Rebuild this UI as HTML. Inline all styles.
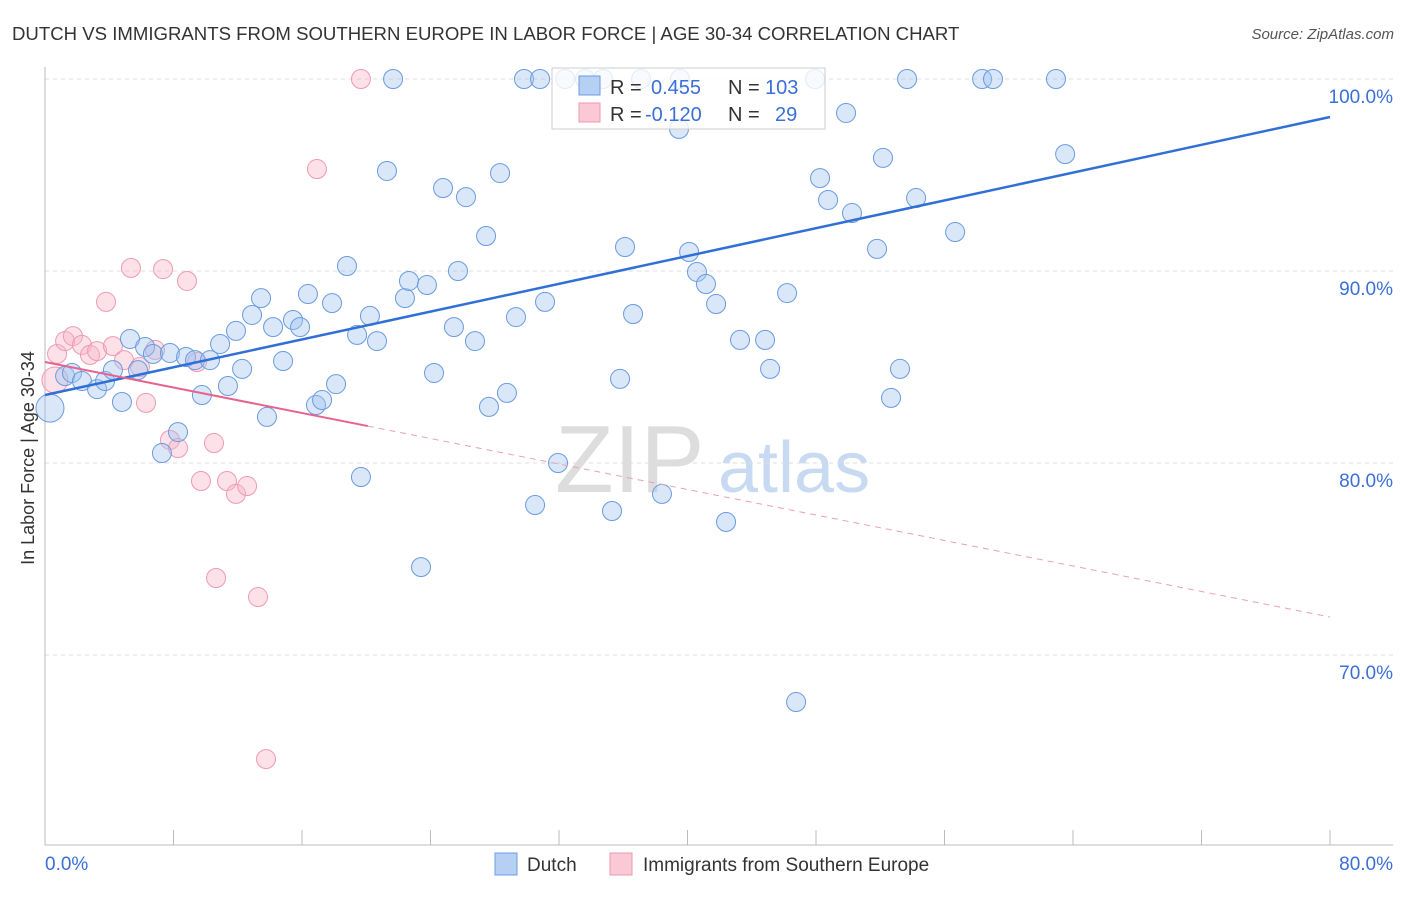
<!DOCTYPE html>
<html><head><meta charset="utf-8"><style>
body{margin:0;background:#fff;font-family:"Liberation Sans",sans-serif;}
svg text{font-family:"Liberation Sans",sans-serif;}
</style></head><body>
<svg width="1406" height="892">
<text x="12" y="40" font-size="18.6" fill="#333">DUTCH VS IMMIGRANTS FROM SOUTHERN EUROPE IN LABOR FORCE | AGE 30-34 CORRELATION CHART</text>
<text x="1394" y="39" font-size="15" fill="#555" font-style="italic" text-anchor="end">Source: ZipAtlas.com</text>
<g><text x="555" y="492" font-size="96" fill="#ddd" font-family="Liberation Serif">ZIP</text><text x="718" y="492" font-size="72" fill="#c8daf2">atlas</text></g>
<g id="grid"></g>
<g id="axes"></g>
<g id="marks"></g>
<g>
<rect x="552" y="68" width="273" height="61" fill="#fff" fill-opacity="0.8" stroke="#ccc"/>
<rect x="579" y="76" width="21" height="19" fill="#b5d0f3" stroke="#6a9be0"/>
<rect x="579" y="103" width="21" height="19" fill="#fbc8d6" stroke="#ee9ab3"/>
<text x="610" y="94" font-size="20" fill="#333">R = </text><text x="651" y="94" font-size="20" fill="#3a6fd8">0.455</text>
<text x="728" y="94" font-size="20" fill="#333">N = </text><text x="765" y="94" font-size="20" fill="#3a6fd8">103</text>
<text x="610" y="121" font-size="20" fill="#333">R = </text><text x="645" y="121" font-size="20" fill="#3a6fd8">-0.120</text>
<text x="728" y="121" font-size="20" fill="#333">N = </text><text x="775" y="121" font-size="20" fill="#3a6fd8">29</text>
</g>
<text x="0" y="0" transform="translate(34,458) rotate(-90)" font-size="18" fill="#333" text-anchor="middle">In Labor Force | Age 30-34</text>
<g>
<rect x="495" y="853" width="22" height="22" fill="#b5d0f3" stroke="#6a9be0"/>
<text x="527" y="871" font-size="19" fill="#333">Dutch</text>
<rect x="610" y="853" width="22" height="22" fill="#fbc8d6" stroke="#ee9ab3"/>
<text x="643" y="871" font-size="19" fill="#333">Immigrants from Southern Europe</text>
</g>
</svg>
<script>
const yTicks=[100,90,80,70];
const xTickLabels=["0.0%","80.0%"];
const dutchX=[0.31,1.25,1.68,2.30,3.24,3.74,4.23,4.79,5.29,5.79,6.23,6.72,7.78,7.28,8.28,8.78,9.34,9.77,10.27,10.90,11.39,11.89,12.27,12.89,13.45,13.82,14.20,14.82,15.44,15.88,16.37,16.87,17.25,17.87,18.12,18.80,19.43,19.67,20.23,20.67,21.29,21.67,22.41,22.66,23.41,23.78,24.22,24.78,25.46,25.71,26.21,26.77,27.46,27.64,28.33,28.76,29.32,29.82,30.51,30.82,31.13,31.94,32.38,33.62,35.30,35.80,36.11,36.61,37.11,38.41,39.47,40.10,40.59,41.15,41.78,42.40,43.27,44.83,45.14,46.20,46.76,47.94,48.25,48.75,49.87,50.24,51.80,52.17,52.67,53.23,53.67,54.23,56.66,58.34,59.02,62.94,63.51,34.74,39.53];
const dutchY=[82.86,84.53,84.69,84.27,83.85,84.27,84.84,83.18,86.46,84.84,86.04,85.68,85.73,80.52,81.61,85.52,85.36,83.54,85.36,86.20,84.01,86.88,84.90,87.71,88.59,82.40,87.08,85.31,87.45,87.08,88.80,83.02,83.28,88.33,84.11,90.26,86.67,79.27,87.66,86.35,95.21,100,88.59,89.48,74.58,89.27,84.69,94.32,87.08,90.0,93.85,86.35,91.82,82.92,95.10,83.65,87.60,100,77.81,100,88.39,80.0,100,100,77.5,84.38,91.25,87.76,100,78.39,97.40,90.99,89.95,89.32,88.28,76.93,86.41,86.41,84.90,88.85,67.55,100,94.84,93.70,98.23,93.02,91.15,95.89,83.39,84.90,100,93.80,92.03,100,100,100,96.09,100,100];
const immX=[0.62,0.75,1.25,1.74,2.30,2.80,3.24,3.80,4.23,4.92,5.35,5.91,6.29,6.85,7.35,7.78,8.28,8.84,9.46,9.71,10.52,10.65,11.33,11.89,12.58,13.26,13.76,16.93,19.67];
const immY=[84.32,85.68,86.35,86.61,86.15,85.63,85.83,88.39,86.09,85.36,90.16,85.0,83.13,85.89,90.10,81.20,80.78,89.48,85.26,79.06,81.04,74.01,79.06,78.39,78.80,73.02,64.58,95.31,100];
const dutchTrend=[83.54,98.02];
const immTrend=[85.26,71.98];
const immSolidEnd=20.1;
const NS="http://www.w3.org/2000/svg";
const sx=v=>45+v/80*1285, sy=v=>79+(100-v)*19.2;
function mk(tag,attrs,parent){const e=document.createElementNS(NS,tag);for(const k in attrs)e.setAttribute(k,attrs[k]);document.getElementById(parent).appendChild(e);return e;}
yTicks.forEach(t=>{
 const l=mk('line',{x1:45,x2:1393,y1:sy(t),y2:sy(t),stroke:'#ddd','stroke-dasharray':'4,4'},'grid');
 
 
 const tx=mk('text',{x:1393,y:sy(t)+24,'font-size':19,fill:'#3a6fd8','text-anchor':'end'},'grid');tx.textContent=t.toFixed(1)+'%';
 
 
});
let a=mk('line',{x1:45,x2:45,y1:67,y2:845,stroke:'#bbb'},'axes');


a=mk('line',{x1:45,x2:1393,y1:845,y2:845,stroke:'#bbb'},'axes');


for(let i=0;i<=10;i++){const t=mk('line',{x1:sx(i*8),x2:sx(i*8),y1:830,y2:845,stroke:'#bbb'},'axes');
 
 }
let xl=mk('text',{x:45,y:870,'font-size':19,fill:'#3a6fd8'},'axes');xl.textContent=xTickLabels[0];


xl=mk('text',{x:1393,y:870,'font-size':19,fill:'#3a6fd8','text-anchor':'end'},'axes');xl.textContent=xTickLabels[1];


immX.forEach((x,i)=>{const c=mk('circle',{cx:sx(x),cy:sy(immY[i]),r:i==0?13:9.5,fill:'rgba(248,180,200,0.4)',stroke:'#ee9ab3','stroke-width':1},'marks');
 
 });
dutchX.forEach((x,i)=>{const c=mk('circle',{cx:sx(x),cy:sy(dutchY[i]),r:i==0?14:9.5,fill:'rgba(160,195,240,0.4)',stroke:'#6a9be0','stroke-width':1},'marks');
 
 });
let tl=mk('line',{x1:sx(0),y1:sy(dutchTrend[0]),x2:sx(80),y2:sy(dutchTrend[1]),stroke:'#2f6fd6','stroke-width':2.5},'marks');


const iy=x=>immTrend[0]+(immTrend[1]-immTrend[0])*x/80;
tl=mk('line',{x1:sx(0),y1:sy(immTrend[0]),x2:sx(immSolidEnd),y2:sy(iy(immSolidEnd)),stroke:'#e8628e','stroke-width':2},'marks');


tl=mk('line',{x1:sx(immSolidEnd),y1:sy(iy(immSolidEnd)),x2:sx(80),y2:sy(immTrend[1]),stroke:'#e8a0b8','stroke-width':1,'stroke-dasharray':'6,5'},'marks');


</script>
</body></html>
